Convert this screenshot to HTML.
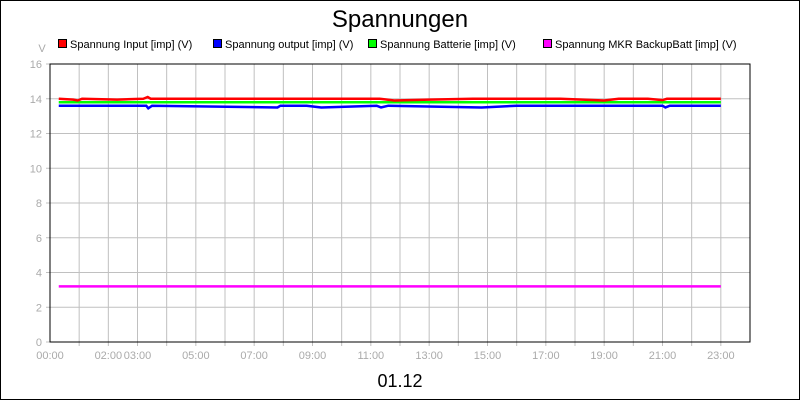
<!DOCTYPE html>
<html><head><meta charset="utf-8"><style>
html,body{margin:0;padding:0;background:#fff}
svg{display:block;font-family:"Liberation Sans",sans-serif}
</style></head><body>
<svg id="chart" width="800" height="400">
<rect x="0.5" y="0.5" width="799" height="399" fill="#fff" stroke="#000"/>
<text x="400" y="27" font-size="24" text-anchor="middle">Spannungen</text>
<text x="42" y="52" font-size="11" fill="#aaa" text-anchor="middle">V</text>
<text x="400" y="387" font-size="18" text-anchor="middle">01.12</text>
<g id="grid"></g><g id="axes"></g><g id="series"></g><g id="legend"></g>
</svg>
<script>
const seriesNames=["Spannung Input [imp] (V)","Spannung output [imp] (V)","Spannung Batterie [imp] (V)","Spannung MKR BackupBatt [imp] (V)"];
const seriesColors=["#ff0000","#0000ff","#00ff00","#ff00ff"];
const yTicks=[0,2,4,6,8,10,12,14,16];
const xTickHours=[0,2,3,5,7,9,11,13,15,17,19,21,23];
const xTickLabels=["00:00","02:00","03:00","05:00","07:00","09:00","11:00","13:00","15:00","17:00","19:00","21:00","23:00"];
const inputHours=[0.3,0.8,0.95,1.1,2.3,3.2,3.35,3.45,11.3,11.8,13,14.5,17.5,19,19.5,20.5,21,21.15,23];
const inputValues=[14.0,13.95,13.9,14.0,13.95,14.0,14.1,14.0,14.0,13.9,13.95,14.0,14.0,13.9,14.0,14.0,13.92,14.0,14.0];
const outputHours=[0.3,3.3,3.37,3.5,7.8,7.9,8.8,9.3,11.2,11.35,11.6,14.8,16,21,21.1,21.25,23];
const outputValues=[13.6,13.6,13.45,13.6,13.5,13.6,13.6,13.5,13.6,13.5,13.6,13.5,13.6,13.6,13.5,13.6,13.6];
const battHours=[0.3,23];
const battValues=[13.8,13.8];
const mkrHours=[0.3,23];
const mkrValues=[3.2,3.2];
const NS="http://www.w3.org/2000/svg";
const X0=50,X1=750,Y0=342,Y1=64;
const xs=h=>X0+h*(X1-X0)/24;
const ys=v=>Y0-v*(Y0-Y1)/16;
function mk(t,a,p){const e=document.createElementNS(NS,t);for(const k in a)e.setAttribute(k,a[k]);p.appendChild(e);return e;}
const grid=document.getElementById('grid'),axes=document.getElementById('axes'),ser=document.getElementById('series'),leg=document.getElementById('legend');
for(let h=1;h<24;h++){const l=mk('line',{x1:xs(h),x2:xs(h),y1:Y1,y2:Y0+4,stroke:'#c0c0c0'},grid);

}
yTicks.forEach(v=>{if(v>0&&v<16){const l=mk('line',{x1:X0,x2:X1,y1:ys(v),y2:ys(v),stroke:'#c0c0c0'},grid);

}
mk('line',{x1:X0-4,x2:X0,y1:ys(v),y2:ys(v),stroke:'#c0c0c0'},axes);
const t=mk('text',{x:X0-8,y:ys(v)+4,'font-size':11,fill:'#aaa','text-anchor':'end'},axes);t.textContent=v;

});
xTickHours.forEach((h,i)=>{const t=mk('text',{x:xs(h),y:Y0+17,'font-size':11,fill:'#aaa','text-anchor':'middle'},axes);t.textContent=xTickLabels[i];

});
const fr=mk('rect',{x:X0,y:Y1,width:X1-X0,height:Y0-Y1,fill:'none',stroke:'#000'},axes);


const all=[[inputHours,inputValues],[outputHours,outputValues],[battHours,battValues],[mkrHours,mkrValues]];
const order=[3,2,1,0];
order.forEach(i=>{const [hh,vv]=all[i];const p=mk('polyline',{points:hh.map((h,j)=>xs(h)+','+ys(vv[j])).join(' '),fill:'none',stroke:seriesColors[i],'stroke-width':2.5},ser);

});
const lx=[58,213,368,543];
seriesNames.forEach((n,i)=>{const g=mk('g',{},leg);


mk('rect',{x:lx[i]+0.5,y:39.5,width:8,height:8,fill:seriesColors[i],stroke:'#000'},g);
const t=mk('text',{x:lx[i]+12,y:48,'font-size':11},g);t.textContent=n;});
</script>
</body></html>
